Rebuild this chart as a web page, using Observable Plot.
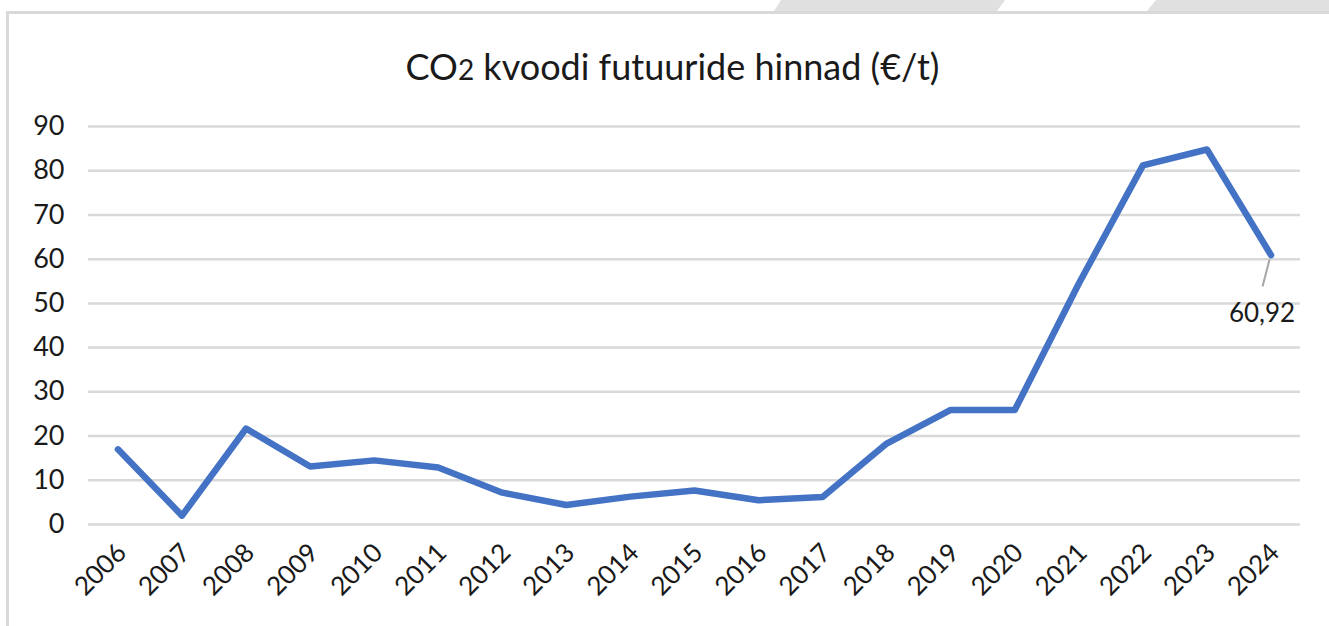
<!DOCTYPE html>
<html>
<head>
<meta charset="utf-8">
<script src="https://cdn.jsdelivr.net/npm/d3@7"></script>
<script src="https://cdn.jsdelivr.net/npm/@observablehq/plot@0.6"></script>
<style>
  html, body { margin: 0; padding: 0; background: #fff; }
  #wrap { position: relative; width: 1329px; height: 626px; overflow: hidden; background: #fff; font-family: Lato, "Open Sans", sans-serif; }
  #deco { position: absolute; left: 0; top: 0; }
  #title { position: absolute; left: 0; top: 44px; width: 1345px; text-align: center; font-size: 36px; color: #1a1a1a; }
  #title .sub { font-size: 28px; }
  #chart { position: absolute; left: 0; top: 100px; }
</style>
</head>
<body>
<div id="wrap">
  <svg id="deco" width="1329" height="626">
    <polygon points="781,0 1005,0 997,11 774,11" fill="#e0e0e0"></polygon>
    <polygon points="1156,0 1329,0 1329,11 1147,11" fill="#e0e0e0"></polygon>
    <rect x="6" y="11" width="1323" height="3" fill="#d9d9d9"></rect>
    <rect x="6" y="11" width="3" height="615" fill="#d9d9d9"></rect>
  </svg>
  <div id="title">CO<span class="sub">2</span> kvoodi futuuride hinnad (€/t)</div>
  <div id="chart"></div>
</div>
<script>
const years = [2006, 2007, 2008, 2009, 2010, 2011, 2012, 2013, 2014, 2015, 2016, 2017, 2018, 2019, 2020, 2021, 2022, 2023, 2024];
const prices = [17.0, 2.0, 21.7, 13.1, 14.5, 12.9, 7.2, 4.4, 6.3, 7.7, 5.5, 6.2, 18.3, 25.9, 25.9, 54.5, 81.2, 84.8, 60.92];
const yTicks = [0, 10, 20, 30, 40, 50, 60, 70, 80, 90];
const lastLabel = "60,92";

const data = years.map((y, i) => ({year: y, price: prices[i]}));
const last = data[data.length - 1];

const leader = (index, scales) => {
  const x0 = scales.x(last.year) - 1;
  const y0 = scales.y(last.price) + 5;
  const line = document.createElementNS("http://www.w3.org/2000/svg", "line");
  line.setAttribute("x1", x0);
  line.setAttribute("y1", y0);
  line.setAttribute("x2", x0 - 7);
  line.setAttribute("y2", y0 + 27);
  line.setAttribute("stroke", "#a6a6a6");
  line.setAttribute("stroke-width", "2");
  return line;
};

const chart = Plot.plot({
  width: 1329,
  height: 526,
  marginLeft: 88,
  marginRight: 29,
  marginTop: 26,
  marginBottom: 102,
  style: {fontFamily: "Lato, 'Open Sans', sans-serif", fontSize: "26px", color: "#1a1a1a", background: "transparent", overflow: "visible"},
  x: {type: "point", domain: years, padding: 0.46, round: false, label: null},
  y: {domain: [0, 90], label: null},
  marks: [
    Plot.ruleY(yTicks, {stroke: "#d9d9d9", strokeWidth: 2.5, strokeOpacity: 1}),
    Plot.axisY({ticks: yTicks, tickSize: 0, tickPadding: 24, label: null, fontSize: 27}),
    Plot.axisX({tickSize: 0, tickRotate: -45, tickPadding: 24, dx: 4, label: null, fontSize: 26, tickFormat: d => String(d)}),
    Plot.line(data, {x: "year", y: "price", stroke: "#4472c4", strokeWidth: 6.5, strokeLinejoin: "round", strokeLinecap: "round"}),
    leader,
    Plot.text([last], {x: "year", y: "price", text: () => lastLabel, dx: -9, dy: 59, fontSize: 26, fill: "#1a1a1a"})
  ]
});
document.getElementById("chart").appendChild(chart);
</script>
</body>
</html>
